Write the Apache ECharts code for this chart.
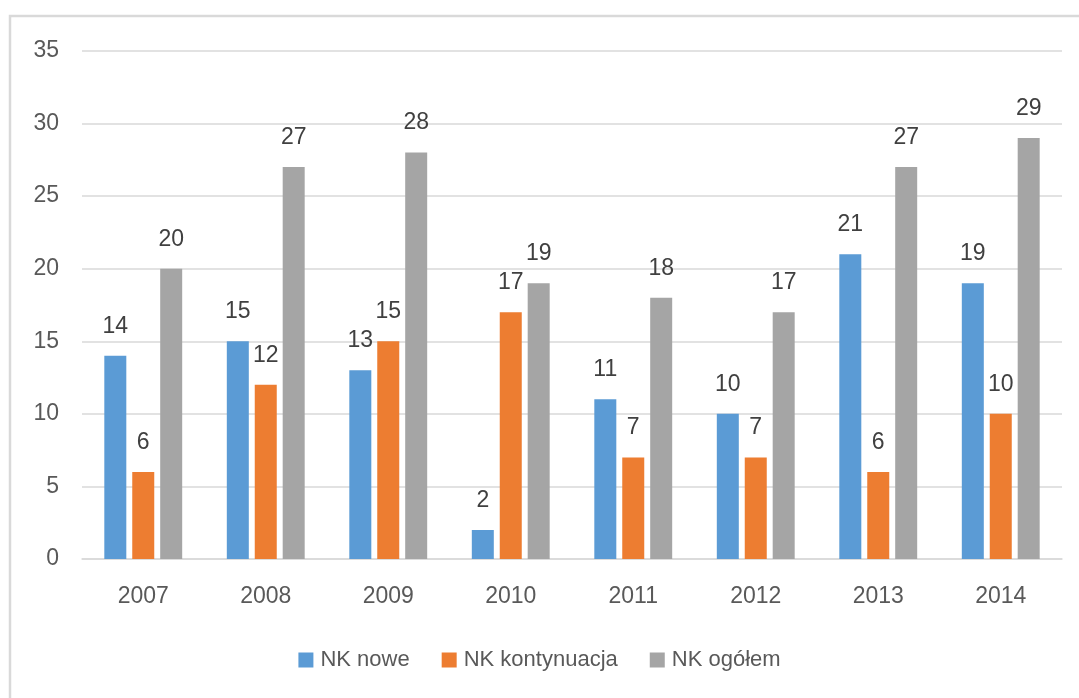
<!DOCTYPE html>
<html>
<head>
<meta charset="utf-8">
<script src="https://cdn.jsdelivr.net/npm/echarts@6/dist/echarts.min.js"></script>
<style>
html,body{margin:0;padding:0;background:#fff;}
#chart{width:1079px;height:698px;}
</style>
</head>
<body>
<div id="chart"></div>
<script>
var categories = ['2007','2008','2009','2010','2011','2012','2013','2014'];
var nkNowe = [14,15,13,2,11,10,21,19];
var nkKontynuacja = [6,12,15,17,7,7,6,10];
var nkOgolem = [20,27,28,19,18,17,27,29];
var seriesNames = ['NK nowe','NK kontynuacja','NK ogółem'];

var FONT = '"Liberation Sans", Arial, sans-serif';
var TXT = '#595959';
var LBL = '#404040';
var chart = echarts.init(document.getElementById('chart'));

function mk(name, data, color) {
  return {
    name: name,
    type: 'bar',
    data: data,
    barWidth: 22,
    barGap: '27%',
    itemStyle: { color: color },
    label: {
      show: true,
      position: 'top',
      distance: 18,
      color: LBL,
      fontFamily: FONT,
      fontSize: 23
    }
  };
}

chart.setOption({
  animation: false,
  backgroundColor: '#fff',
  graphic: [{
    type: 'rect',
    shape: { x: 10, y: 16, width: 1200, height: 800 },
    style: { fill: 'none', stroke: '#d9d9d9', lineWidth: 2.5 },
    silent: true
  }],
  grid: { left: 82, right: 17, top: 51, bottom: 139, containLabel: false },
  legend: {
    bottom: 22,
    left: 'center',
    itemWidth: 15,
    itemHeight: 15,
    itemGap: 32,
    icon: 'rect',
    textStyle: { color: TXT, fontFamily: FONT, fontSize: 22, padding: [0,0,0,2] },
    data: seriesNames
  },
  xAxis: {
    type: 'category',
    data: categories,
    axisLine: { lineStyle: { color: '#d9d9d9', width: 1.5 } },
    axisTick: { show: false },
    axisLabel: { color: TXT, fontFamily: FONT, fontSize: 23, margin: 26 }
  },
  yAxis: {
    type: 'value',
    min: 0,
    max: 35,
    interval: 5,
    axisLine: { show: false },
    axisTick: { show: false },
    splitLine: { lineStyle: { color: '#d9d9d9', width: 1.5 } },
    axisLabel: { color: TXT, fontFamily: FONT, fontSize: 23, margin: 23 }
  },
  series: [
    mk(seriesNames[0], nkNowe, '#5B9BD5'),
    mk(seriesNames[1], nkKontynuacja, '#ED7D31'),
    mk(seriesNames[2], nkOgolem, '#A5A5A5')
  ]
});
</script>
</body>
</html>
